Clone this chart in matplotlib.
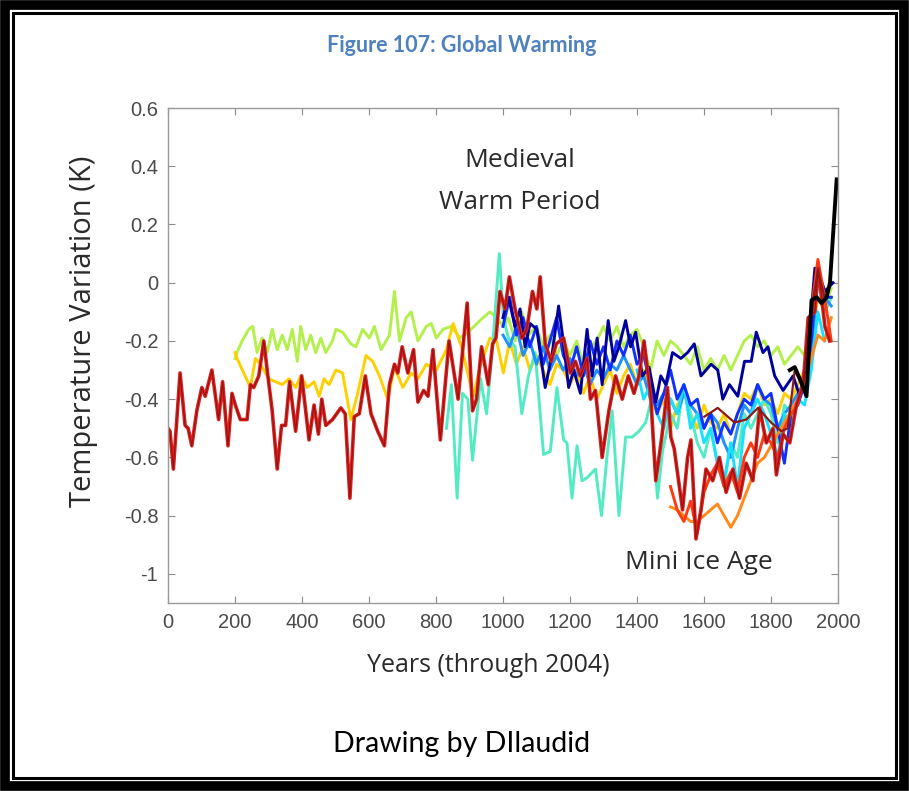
import matplotlib
matplotlib.use("Agg")
import matplotlib.pyplot as plt
from matplotlib.patches import Rectangle

# Reconstructions of temperature variation (K)
red_years = [0, 6, 16, 36, 51, 60, 71, 86, 101, 111,
             131, 151, 163, 179, 191, 201, 216, 236, 246, 256,
             271, 286, 296, 311, 326, 339, 351, 363, 381, 399,
             421, 436, 449, 459, 471, 491, 516, 529, 543, 556,
             571, 589, 606, 626, 646, 661, 676, 686, 699, 716,
             733, 746, 763, 776, 791, 813, 839, 866, 879, 893,
             909, 921, 936, 956, 969, 979, 991, 1006, 1019, 1036,
             1056, 1071, 1088, 1101, 1111, 1126, 1144, 1159, 1181, 1201,
             1216, 1231, 1251, 1261, 1276, 1296, 1316, 1336, 1356, 1374,
             1391, 1406, 1421, 1441, 1456, 1474, 1491, 1501, 1511, 1536,
             1551, 1561, 1576, 1591, 1606, 1626, 1646, 1666, 1686, 1706,
             1726, 1746, 1766, 1786, 1806, 1816, 1836, 1856, 1876, 1896,
             1911, 1931, 1941, 1951, 1961, 1975]
red_vals = [-0.50, -0.51, -0.64, -0.31, -0.49, -0.50, -0.56, -0.44, -0.36, -0.39,
            -0.30, -0.47, -0.34, -0.56, -0.38, -0.42, -0.47, -0.47, -0.35, -0.36,
            -0.32, -0.20, -0.30, -0.44, -0.64, -0.49, -0.49, -0.34, -0.51, -0.32,
            -0.54, -0.42, -0.52, -0.40, -0.49, -0.47, -0.43, -0.45, -0.74, -0.46,
            -0.45, -0.32, -0.45, -0.51, -0.56, -0.35, -0.28, -0.31, -0.22, -0.31,
            -0.23, -0.41, -0.37, -0.39, -0.23, -0.54, -0.20, -0.40, -0.24, -0.07,
            -0.44, -0.40, -0.22, -0.35, -0.21, -0.19, -0.03, -0.09, 0.02, -0.09,
            -0.19, -0.16, -0.03, -0.09, 0.02, -0.21, -0.27, -0.21, -0.19, -0.31,
            -0.27, -0.32, -0.26, -0.40, -0.37, -0.60, -0.44, -0.32, -0.40, -0.32,
            -0.38, -0.32, -0.20, -0.39, -0.68, -0.53, -0.36, -0.53, -0.57, -0.78,
            -0.60, -0.54, -0.88, -0.78, -0.64, -0.68, -0.60, -0.72, -0.64, -0.74,
            -0.62, -0.68, -0.43, -0.55, -0.50, -0.66, -0.52, -0.55, -0.42, -0.35,
            -0.12, -0.10, 0.05, -0.05, -0.15, -0.20]

turq_years = [831, 846, 863, 879, 895, 909, 933, 951, 969, 989,
              1001, 1016, 1036, 1056, 1076, 1096, 1121, 1141, 1161, 1181,
              1191, 1206, 1221, 1236, 1251, 1276, 1294, 1311, 1326, 1346,
              1366, 1386, 1406, 1426, 1441, 1461, 1476, 1500, 1520, 1540,
              1560, 1580, 1600, 1620, 1640, 1660, 1680, 1700, 1720, 1740,
              1760, 1780, 1800, 1820, 1840, 1860, 1880, 1900, 1920, 1940,
              1960, 1980]
turq_vals = [-0.50, -0.35, -0.74, -0.38, -0.40, -0.61, -0.33, -0.45, -0.22, 0.10,
             -0.12, -0.19, -0.22, -0.45, -0.32, -0.24, -0.59, -0.58, -0.36, -0.54,
             -0.55, -0.74, -0.56, -0.68, -0.67, -0.64, -0.80, -0.59, -0.44, -0.80,
             -0.53, -0.53, -0.51, -0.48, -0.41, -0.74, -0.58, -0.45, -0.50, -0.35,
             -0.45, -0.55, -0.60, -0.50, -0.62, -0.70, -0.55, -0.60, -0.45, -0.50,
             -0.45, -0.40, -0.45, -0.55, -0.42, -0.45, -0.40, -0.35, -0.15, 0.00,
             -0.10, -0.05]

green_years = [200, 206, 221, 241, 253, 266, 281, 296, 311, 326,
               341, 356, 371, 386, 396, 411, 426, 441, 456, 471,
               491, 501, 521, 546, 561, 581, 601, 616, 636, 661,
               676, 691, 711, 726, 746, 771, 786, 801, 821, 846,
               871, 896, 931, 961, 981, 1001, 1016, 1036, 1056, 1076,
               1100, 1120, 1140, 1160, 1180, 1200, 1220, 1240, 1260, 1280,
               1300, 1320, 1340, 1360, 1380, 1400, 1420, 1440, 1460, 1480,
               1500, 1520, 1540, 1560, 1580, 1600, 1620, 1640, 1660, 1680,
               1700, 1720, 1740, 1760, 1780, 1800, 1820, 1840, 1860, 1880,
               1900, 1920, 1940, 1960, 1980]
green_vals = [-0.26, -0.24, -0.20, -0.16, -0.15, -0.24, -0.19, -0.24, -0.16, -0.23,
              -0.18, -0.23, -0.16, -0.27, -0.15, -0.23, -0.18, -0.24, -0.19, -0.24,
              -0.20, -0.16, -0.17, -0.21, -0.22, -0.16, -0.19, -0.15, -0.23, -0.18,
              -0.03, -0.20, -0.12, -0.10, -0.20, -0.15, -0.14, -0.19, -0.16, -0.15,
              -0.19, -0.17, -0.13, -0.10, -0.12, -0.15, -0.12, -0.20, -0.10, -0.18,
              -0.15, -0.22, -0.18, -0.25, -0.20, -0.25, -0.20, -0.28, -0.22, -0.20,
              -0.15, -0.20, -0.15, -0.22, -0.18, -0.16, -0.22, -0.30, -0.20, -0.25,
              -0.20, -0.22, -0.25, -0.28, -0.22, -0.30, -0.26, -0.30, -0.25, -0.30,
              -0.25, -0.20, -0.18, -0.22, -0.20, -0.25, -0.22, -0.28, -0.25, -0.22,
              -0.25, -0.15, -0.05, -0.08, -0.02]

yellow_years = [200, 206, 226, 246, 261, 276, 301, 321, 341, 361,
                381, 396, 416, 436, 451, 466, 481, 501, 521, 546,
                566, 591, 611, 631, 656, 676, 701, 726, 746, 771,
                801, 831, 851, 876, 911, 931, 961, 981, 1001, 1020,
                1040, 1060, 1080, 1100, 1120, 1140, 1160, 1180, 1200, 1220,
                1240, 1260, 1280, 1300, 1320, 1340, 1360, 1380, 1400, 1420,
                1440, 1460, 1480, 1500, 1520, 1540, 1560, 1580, 1600, 1620,
                1640, 1660, 1680, 1700, 1720, 1740, 1760, 1780, 1800, 1820,
                1840, 1860, 1880, 1900, 1920, 1940, 1960, 1980]
yellow_vals = [-0.24, -0.26, -0.31, -0.36, -0.26, -0.28, -0.33, -0.34, -0.35, -0.33,
               -0.36, -0.32, -0.36, -0.34, -0.39, -0.33, -0.35, -0.30, -0.31, -0.47,
               -0.38, -0.25, -0.27, -0.32, -0.40, -0.29, -0.36, -0.31, -0.33, -0.28,
               -0.30, -0.23, -0.14, -0.22, -0.39, -0.29, -0.19, -0.20, -0.31, -0.20,
               -0.28, -0.22, -0.30, -0.25, -0.30, -0.35, -0.28, -0.30, -0.35, -0.30,
               -0.38, -0.32, -0.40, -0.35, -0.30, -0.38, -0.32, -0.28, -0.35, -0.30,
               -0.40, -0.45, -0.40, -0.50, -0.42, -0.38, -0.45, -0.50, -0.42, -0.48,
               -0.50, -0.45, -0.52, -0.45, -0.38, -0.40, -0.35, -0.42, -0.40, -0.45,
               -0.38, -0.40, -0.35, -0.30, -0.20, -0.05, -0.10, -0.05]

navy_years = [1000, 1016, 1036, 1051, 1066, 1081, 1101, 1126, 1146, 1166,
              1181, 1196, 1211, 1231, 1251, 1266, 1281, 1296, 1314, 1331,
              1346, 1366, 1381, 1396, 1416, 1436, 1456, 1471, 1486, 1506,
              1531, 1551, 1571, 1591, 1621, 1641, 1656, 1676, 1701, 1721,
              1741, 1756, 1776, 1791, 1811, 1836, 1866, 1886, 1911, 1931,
              1946, 1961, 1985]
navy_vals = [-0.12, -0.05, -0.15, -0.09, -0.22, -0.14, -0.16, -0.36, -0.25, -0.08,
             -0.21, -0.36, -0.30, -0.38, -0.16, -0.32, -0.19, -0.35, -0.13, -0.27,
             -0.22, -0.13, -0.22, -0.17, -0.32, -0.29, -0.41, -0.32, -0.35, -0.24,
             -0.26, -0.24, -0.21, -0.32, -0.28, -0.30, -0.40, -0.35, -0.39, -0.27,
             -0.27, -0.17, -0.24, -0.22, -0.32, -0.37, -0.32, -0.39, -0.23, 0.05,
             0.02, -0.03, 0.00]

mill_years = list(range(1000, 1981, 20))
blue_vals = [-0.15, -0.05, -0.18, -0.12, -0.22, -0.15, -0.28, -0.20, -0.12, -0.25,
             -0.30, -0.22, -0.32, -0.20, -0.28, -0.22, -0.30, -0.20, -0.25, -0.18,
             -0.28, -0.25, -0.35, -0.45, -0.38, -0.30, -0.40, -0.35, -0.42, -0.40,
             -0.50, -0.45, -0.55, -0.48, -0.52, -0.45, -0.40, -0.42, -0.35, -0.40,
             -0.38, -0.50, -0.62, -0.45, -0.42, -0.35, -0.20, 0.06, -0.05, -0.05]
sky_vals = [-0.18, -0.22, -0.15, -0.25, -0.20, -0.28, -0.22, -0.30, -0.25, -0.30,
            -0.26, -0.32, -0.28, -0.35, -0.30, -0.33, -0.28, -0.30, -0.25, -0.30,
            -0.35, -0.32, -0.40, -0.42, -0.38, -0.40, -0.45, -0.38, -0.42, -0.45,
            -0.50, -0.45, -0.48, -0.55, -0.60, -0.50, -0.42, -0.45, -0.35, -0.40,
            -0.42, -0.50, -0.45, -0.42, -0.38, -0.35, -0.25, 0.02, -0.05, -0.08]

cyan_years = list(range(1400, 1961, 20))
cyan_vals = [-0.30, -0.40, -0.35, -0.45, -0.50, -0.40, -0.45, -0.35, -0.50, -0.45,
             -0.55, -0.50, -0.62, -0.68, -0.55, -0.70, -0.50, -0.45, -0.40, -0.45,
             -0.52, -0.60, -0.45, -0.50, -0.40, -0.42, -0.30, -0.10, -0.20]

late_years = list(range(1500, 1981, 20))
orange_vals = [-0.77, -0.78, -0.80, -0.82, -0.82, -0.80, -0.78, -0.76, -0.80, -0.84,
               -0.80, -0.74, -0.68, -0.62, -0.60, -0.56, -0.52, -0.48, -0.44, -0.40,
               -0.34, -0.26, -0.18, -0.20, -0.12]
orangered_vals = [-0.70, -0.78, -0.82, -0.75, -0.86, -0.72, -0.66, -0.62, -0.70, -0.65,
                  -0.72, -0.60, -0.55, -0.60, -0.52, -0.55, -0.60, -0.50, -0.45, -0.42,
                  -0.30, -0.10, 0.08, -0.05, -0.20]

brown_years = [1601, 1641, 1661, 1691, 1726, 1761, 1800, 1831, 1850, 1871, 1896, 1920, 1940, 1960]
brown_vals = [-0.46, -0.43, -0.45, -0.48, -0.47, -0.43, -0.48, -0.51, -0.50, -0.30, -0.36, -0.10, 0.04, -0.05]

inst_years = [1856, 1871, 1886, 1906, 1921, 1936, 1951, 1966, 1976, 1996]
inst_vals = [-0.30, -0.29, -0.33, -0.39, -0.06, -0.05, -0.07, -0.05, 0.00, 0.355]

xticks = [0, 200, 400, 600, 800, 1000, 1200, 1400, 1600, 1800, 2000]
yticks = [0.6, 0.4, 0.2, 0, -0.2, -0.4, -0.6, -0.8, -1]
ytick_labels = ['0.6', '0.4', '0.2', '0', '-0.2', '-0.4', '-0.6', '-0.8', '-1']

fig = plt.figure(figsize=(9.09, 7.91), dpi=100)

# double black frame around the page
frame = fig.add_axes([0, 0, 1, 1], zorder=-1)
frame.set_xlim(0, 909)
frame.set_ylim(791, 0)
frame.axis('off')
frame.add_patch(Rectangle((5, 5), 899, 781, fill=False, ec='black', lw=7))
frame.add_patch(Rectangle((13, 13), 883, 765, fill=False, ec='black', lw=2.2))

fig.text(462 / 909, 1 - 52 / 791, 'Figure 107: Global Warming', ha='center', va='baseline',
         color='#4f81bd', fontsize=15.5, fontweight='bold', family='Lato')

ax = fig.add_axes([168 / 909, 1 - 603 / 791, 670 / 909, 495 / 791])

lw = 2.1
ax.plot(green_years, green_vals, color='#b4f04c', lw=lw)
ax.plot(yellow_years, yellow_vals, color='#ffd000', lw=lw)
ax.plot(turq_years, turq_vals, color='#52ebc4', lw=lw)
ax.plot(mill_years, sky_vals, color='#1e90ff', lw=lw)
ax.plot(cyan_years, cyan_vals, color='#18e0ff', lw=lw)
ax.plot(mill_years, blue_vals, color='#1030ff', lw=lw)
ax.plot(navy_years, navy_vals, color='#00009a', lw=lw)
ax.plot(late_years, orange_vals, color='#ff8a1c', lw=lw)
ax.plot(late_years, orangered_vals, color='#ff3a10', lw=lw)
ax.plot(red_years, red_vals, color='#d8221e', lw=2.6)
ax.plot(red_years, red_vals, color='#9a1010', lw=0.8)
ax.plot(brown_years, brown_vals, color='#8a1a14', lw=1.6)
ax.plot(inst_years, inst_vals, color='black', lw=2.8)

ax.set_xlim(0, 2000)
ax.set_ylim(-1.1, 0.6)
ax.set_xticks(xticks)
ax.set_yticks(yticks)
ax.set_yticklabels(ytick_labels)
ax.tick_params(direction='in', length=5, width=0.8, color='#8c8c8c',
               top=True, right=True, labelsize=14.5, labelcolor='#4a4a4a', pad=7)
for lab in ax.get_xticklabels() + ax.get_yticklabels():
    lab.set_family('Liberation Sans')
for sp in ax.spines.values():
    sp.set_color('#9a9a9a')
    sp.set_linewidth(1)

ax.set_xlabel('Years (through 2004)', fontsize=18, family='Open Sans', color='#2a2a2a', va='baseline')
ax.xaxis.set_label_coords(0.478, (603 - 672) / 495)
ax.set_ylabel('Temperature Variation (K)', fontsize=21, family='Open Sans', color='#2a2a2a', va='baseline')
ax.yaxis.set_label_coords((91 - 168) / 670, 0.548)

note_font = dict(ha='center', va='center', fontsize=19, family='Open Sans', color='#2a2a2a')
ax.text(1050, 0.42, 'Medieval', **note_font)
ax.text(1050, 0.274, 'Warm Period', **note_font)
ax.text(1584, -0.96, 'Mini Ice Age', **note_font)

fig.text(462 / 909, 1 - 752 / 791, 'Drawing by DIlaudid', ha='center', va='baseline',
         fontsize=20.5, family='Lato', color='black')

fig.savefig('out.png', dpi=100)
